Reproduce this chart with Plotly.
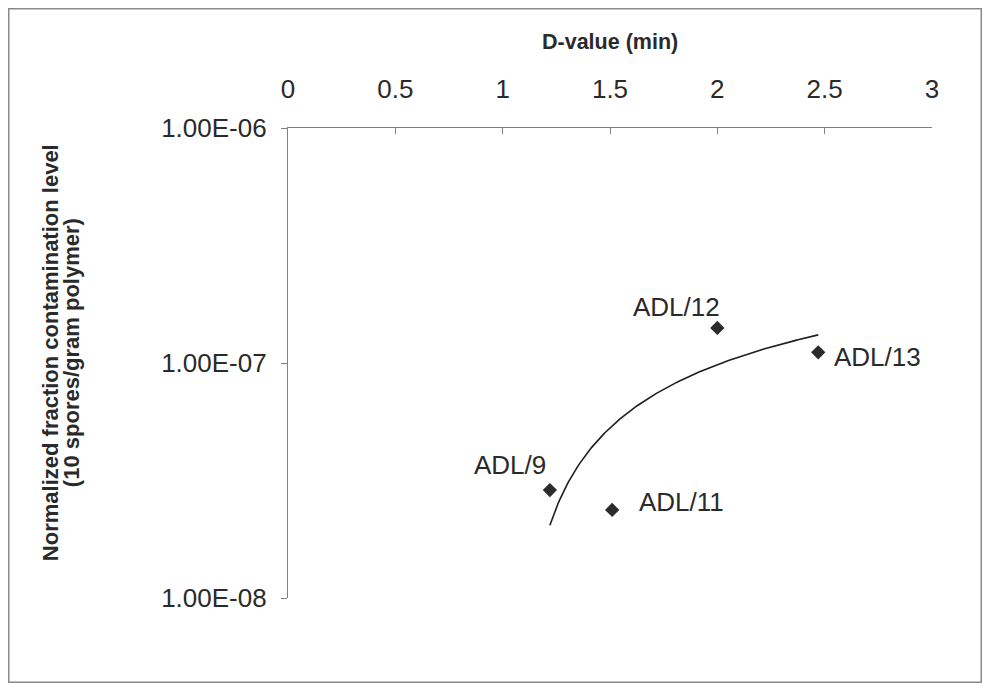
import numpy as np
import plotly.graph_objects as go

# Data
labels = ["ADL/9", "ADL/11", "ADL/12", "ADL/13"]
d_values = [1.22, 1.51, 2.00, 2.47]
contamination = [2.88e-8, 2.37e-8, 1.41e-7, 1.11e-7]
x_ticks = [0, 0.5, 1, 1.5, 2, 2.5, 3]
y_tick_vals = [1e-8, 1e-7, 1e-6]
y_tick_text = ["1.00E-08", "1.00E-07", "1.00E-06"]
y_title_lines = ["Normalized fraction contamination level", "(10 spores/gram polymer)"]

# label offsets (pixels) relative to points
label_shift = {"ADL/9": (-40, 25), "ADL/11": (69, 8), "ADL/12": (-41, 21), "ADL/13": (59, -5)}

# logarithmic trendline (y = a ln x + b) fitted to the data
xa = np.array(d_values)
ya = np.array(contamination)
a, b = np.polyfit(np.log(xa), ya, 1)
xt = np.linspace(xa.min(), xa.max(), 200)
yt = a * np.log(xt) + b

FONT = "Liberation Sans, Arial, sans-serif"
TXT = "#2a2a2a"
AX = "#808080"

fig = go.Figure()
fig.add_trace(go.Scatter(x=xt, y=yt, mode="lines",
                         line=dict(color="#1e1e1e", width=1.6),
                         hoverinfo="skip", showlegend=False))
fig.add_trace(go.Scatter(x=d_values, y=contamination, mode="markers",
                         marker=dict(symbol="diamond", size=11, color="#2b2b2b"),
                         text=labels, showlegend=False))

for lab, xv, yv in zip(labels, d_values, contamination):
    dx, dy = label_shift[lab]
    fig.add_annotation(x=xv, y=np.log10(yv), text=lab, showarrow=False,
                       xshift=dx, yshift=dy, xanchor="center", yanchor="middle",
                       font=dict(family=FONT, size=26, color=TXT))

fig.add_annotation(xref="paper", yref="paper", x=0.5, y=1.183,
                   xanchor="center", yanchor="middle",
                   text="<b>D-value (min)</b>", showarrow=False,
                   font=dict(family=FONT, size=21.5, color=TXT))
for line, px in zip(y_title_lines, [50, 71]):
    fig.add_annotation(xref="paper", yref="paper", x=(px - 288) / 644, y=0.521,
                       xanchor="center", yanchor="middle",
                       text="<b>%s</b>" % line, textangle=-90, showarrow=False,
                       font=dict(family=FONT, size=22, color=TXT))

# outer frame
fig.add_shape(type="rect", xref="paper", yref="paper",
              x0=-0.4336, x1=1.0765, y0=-0.1793, y1=1.2537,
              line=dict(color="#8a8a8a", width=1.5), layer="below")

fig.update_layout(
    width=974, height=675,
    margin=dict(l=280, r=50, t=120, b=85),
    paper_bgcolor="white", plot_bgcolor="white",
    font=dict(family=FONT, size=26, color=TXT),
    xaxis=dict(range=[0, 3], side="top", tickvals=x_ticks,
               ticktext=[("%g" % v) for v in x_ticks],
               showline=True, linecolor=AX, linewidth=1.2,
               ticks="inside", ticklen=6, tickcolor=AX,
               showgrid=False, zeroline=False,
               ticklabelstandoff=19,
               tickfont=dict(family=FONT, size=26, color=TXT)),
    yaxis=dict(type="log", range=[-8, -6], tickvals=y_tick_vals,
               ticktext=y_tick_text,
               showline=True, linecolor=AX, linewidth=1.2,
               ticks="outside", ticklen=6, tickcolor=AX,
               showgrid=False, zeroline=False,
               ticklabelstandoff=9,
               tickfont=dict(family=FONT, size=26, color=TXT)),
)

fig.write_html("out.html")
